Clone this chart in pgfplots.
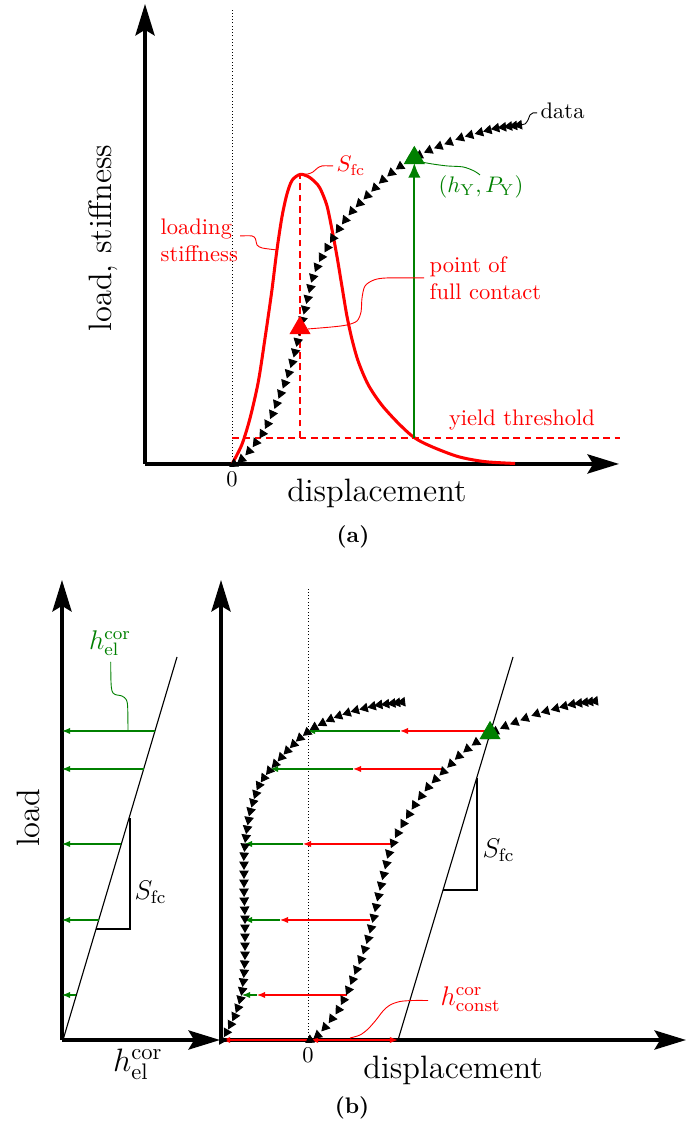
\documentclass[border=0pt]{standalone}
\usepackage{pgfplots}
\usepackage{pgfplotstable}
\pgfplotsset{compat=1.18}
\usetikzlibrary{arrows.meta}

\definecolor{dgreen}{rgb}{0,0.5,0}

% measured load-displacement data (origin at first contact);
% A = rotation of each triangle so that it points back along the curve
\pgfplotstableread{
X Y A
2 0 122
9.7 4.8 130
17.1 12.8 138
24.0 21.4 144
30.5 30.3 148
35.5 40.0 153
40.4 50.0 156
44.5 60.2 158
48.6 70.4 158
52.8 80.6 159
56.6 90.8 162
60.1 101.3 163
63.0 111.9 166
65.6 122.6 167
68.0 133.3 168
70.4 144.0 167
73.0 154.8 166
75.6 165.4 166
78.3 176.1 166
80.9 186.6 162
85.1 197.0 157
89.7 206.9 152
95.3 216.4 150
101.0 225.8 148
106.8 235.1 146
113.3 244.0 143
120.1 252.8 140
127.6 260.6 135
135.4 268.4 135
143.2 276.2 135
151.0 284.0 132
159.5 291.1 130
168.3 297.6 124
177.5 303.7 121
187.3 308.6 117
197.1 313.6 114
207.3 317.7 111
217.5 321.7 111
228.7 326.1 110
238.2 328.9 105
248.1 331.5 105
256.5 333.8 104
264.3 335.8 101
271.2 336.8 97
277.2 337.6 97
282.2 338.2 97
287.1 338.9 97
}\datacurve

% the same data after removing the constant and elastic corrections
\pgfplotstableread{
X Y A
-86 0 149
-81.4 7.7 150
-77.2 15.6 153
-73.3 23.8 155
-70.1 32.2 158
-67.6 40.9 165
-65.8 49.7 170
-64.8 58.6 173
-63.9 67.6 176
-63.4 76.6 177
-63 85.6 179
-63 94.6 180
-63 103.6 180
-63 112.6 180
-63 121.6 180
-63.3 130.6 182
-63.7 139.6 182
-64 148.6 181
-64 157.6 180
-64 166.6 180
-64 175.6 180
-64 184.6 177
-63.1 193.6 174
-62.2 202.6 172
-60.9 211.4 170
-59.4 220.2 170
-57.6 229.1 165
-55 237.8 163
-52.1 246.2 160
-48.9 254.7 155
-44 262.2 145
-38.5 269.4 141
-32.6 276.1 138
-26.6 282.8 138
-20.6 289.4 136
-14.2 295.8 135
-7.9 302.1 131
-0.7 307.6 128
6.6 312.8 120
14.6 316.8 117
22.6 320.8 115
31 324.1 110
39.6 327.1 109
48 329.7 105
56.8 331.8 103.5
64.8 333.7 103
71.5 335.2 98
78.4 336 97
84.5 336.7 97
89.3 337.3 97
94.3 337.9 97
}\corrcurve

\tikzset{
  bigarrow/.style={line width=1.6pt,-{Stealth[length=14pt,width=8.5pt,inset=2.5pt]}},
  smalltip/.style={-{Latex[length=3.6pt,width=2.8pt]}},
}

\pgfplotsset{
  sketch/.style={
    x=0.4444pt, y=0.4444pt,
    anchor=south west,
    axis lines=left,
    axis line style={bigarrow},
    every outer x axis line/.append style={bigarrow},
    every outer y axis line/.append style={bigarrow},
    every inner x axis line/.append style={bigarrow},
    every inner y axis line/.append style={bigarrow},
    clip=false,
    xtick=\empty, ytick=\empty,
    major tick length=0pt,
    label style={font=\Large},
    ymin=0, ymax=460,
  },
  datamarks/.style={
    scatter, only marks, mark=triangle*, mark size=2.1pt,
    scatter/use mapped color={draw=black, fill=black},
    visualization depends on={\thisrow{A} \as \ang},
    scatter/@pre marker code/.append style={/tikz/rotate=\ang},
  },
}

\begin{document}
\begin{tikzpicture}
\useasboundingbox (0,0) rectangle (304.9pt,501.7pt);

% ---------------- (a) ----------------
\begin{axis}[sketch,
  at={(64.44pt,295.53pt)},
  xmin=-87, xmax=387,
  xtick={0}, xticklabels={$0$},
  xlabel={displacement}, ylabel={load, stiffness},
  xlabel style={at={(axis description cs:0.489,-0.063)}, anchor=center},
  ylabel style={at={(axis description cs:-0.0886,0.491)}, anchor=center},
]
\addplot[line width=0.45pt, densely dotted] coordinates {(0,0) (0,454)};
\addplot[red, densely dashed, line width=0.85pt] coordinates {(0,26.3) (388,26.3)};
\addplot[red, densely dashed, line width=0.85pt] coordinates {(68,26.3) (68,289)};
% loading stiffness
\addplot[red, line width=1.35pt, smooth] coordinates {
  (0,0) (9.7,19) (18,45.7) (26.3,82.3) (33,125.7) (39.7,172.3) (44.7,212.3)
  (49.7,245.7) (54.7,269) (60,283.5) (68,289.5) (76,287.5) (83,282) (88,275.7)
  (94.7,259) (99.7,235.7) (104.7,209) (109.7,179) (114.7,149) (119.7,125.7)
  (126.3,102.3) (136.3,79) (149.7,59) (166.3,40.7) (182.3,26.3) (199.7,17.3)
  (226.3,7.3) (253,2.3) (283,0.5)};
\addplot[datamarks] table[x=X, y=Y] {\datacurve};
\addplot[dgreen, line width=0.9pt, -{Latex[length=6.5pt,width=5.5pt]}] coordinates {(182.3,26.3) (182.3,301)};
\addplot[dgreen, only marks, mark=triangle*, mark size=5pt] coordinates {(182.3,306)};
\addplot[red, only marks, mark=triangle*, mark size=5pt] coordinates {(68,136)};
% annotation leaders
\addplot[red, thin, smooth] coordinates {(68,289.5) (76,290) (81,292) (85,295.5) (90,298) (101,298)};
\addplot[red, thin, smooth] coordinates {(44.7,214) (30,216) (25,219) (23.5,225) (20,228) (8,228)};
\addplot[red, thin, smooth] coordinates {(76,135) (100,137) (115,139) (125,143) (129,152) (130,166) (133,178) (142,184) (155,186) (192,186)};
\addplot[dgreen, thin, smooth] coordinates {(189,302) (200,300) (215,298) (231,297) (242,293) (248,289)};
\addplot[black, thin, smooth] coordinates {(288,339) (293,340) (296,344) (298,349) (301,351) (305,351)};
\node[red, anchor=west, inner sep=1pt] at (axis cs:102,298) {$S_{\mathrm{fc}}$};
\node[red, anchor=west, align=left, inner sep=1pt] at (axis cs:-74,223.5) {loading\\stiffness};
\node[red, anchor=west, align=left, inner sep=1pt] at (axis cs:195,186) {point of\\full contact};
\node[dgreen] at (axis cs:249,277) {$(h_{\mathrm{Y}},P_{\mathrm{Y}})$};
\node[anchor=west, inner sep=1pt] at (axis cs:306,353) {data};
\node[red] at (axis cs:290,44) {yield threshold};
\node[font=\bfseries] at (axis cs:121,-73) {(a)};
\end{axis}

% ---------------- (b), elastic correction ----------------
\begin{axis}[sketch,
  at={(27.55pt,39.55pt)},
  xmin=0, xmax=158,
  xlabel={$h^{\mathrm{cor}}_{\mathrm{el}}$}, ylabel={load},
  xlabel style={at={(axis description cs:0.48,-0.052)}, anchor=center},
  ylabel style={at={(axis description cs:-0.215,0.483)}, anchor=center},
]
\addplot[black, line width=0.5pt] coordinates {(1,0) (115,383)};
\addplot[black, line width=0.5pt] coordinates {(34,111) (68,111) (68,222)};
\addplot[dgreen, line width=0.5pt, smalltip] coordinates {(93,309) (0,309)};
\addplot[dgreen, line width=0.5pt, smalltip] coordinates {(81.7,271) (0,271)};
\addplot[dgreen, line width=0.5pt, smalltip] coordinates {(59.3,196) (0,196)};
\addplot[dgreen, line width=0.5pt, smalltip] coordinates {(36.7,120) (0,120)};
\addplot[dgreen, line width=0.5pt, smalltip] coordinates {(14.4,45) (0,45)};
\addplot[dgreen, thin, smooth] coordinates {(66,309) (65.7,332) (64.5,340) (60,344) (53,345.5) (50,349) (49,358) (48.7,378)};
\node[dgreen, font=\large] at (axis cs:48,397) {$h^{\mathrm{cor}}_{\mathrm{el}}$};
\node[anchor=west, font=\large, inner sep=1pt] at (axis cs:70,148) {$S_{\mathrm{fc}}$};
\end{axis}

% ---------------- (b), corrected data ----------------
\begin{axis}[sketch,
  at={(98.21pt,39.55pt)},
  xmin=-87, xmax=378,
  xtick={0}, xticklabels={$0$},
  xlabel={displacement},
  xlabel style={at={(axis description cs:0.499,-0.067)}, anchor=center},
]
\addplot[line width=0.45pt, densely dotted] coordinates {(0,0) (0,453)};
\addplot[black, line width=0.5pt] coordinates {(90,0) (205,383)};
\addplot[black, line width=0.5pt] coordinates {(135,150) (169,150) (169,262)};
\addplot[datamarks] table[x=X, y=Y] {\datacurve};
\addplot[datamarks] table[x=X, y=Y] {\corrcurve};
% constant shift (red) followed by the elastic correction (green)
\addplot[red, line width=0.5pt, smalltip] coordinates {(182,309) (92,309)};
\addplot[dgreen, line width=0.5pt, smalltip] coordinates {(92,309) (-1,309)};
\addplot[red, line width=0.5pt, smalltip] coordinates {(135,271) (45,271)};
\addplot[dgreen, line width=0.5pt, smalltip] coordinates {(45,271) (-38,271)};
\addplot[red, line width=0.5pt, smalltip] coordinates {(85,196) (-5,196)};
\addplot[dgreen, line width=0.5pt, smalltip] coordinates {(-5,196) (-64,196)};
\addplot[red, line width=0.5pt, smalltip] coordinates {(62,120) (-28,120)};
\addplot[dgreen, line width=0.5pt, smalltip] coordinates {(-28,120) (-64,120)};
\addplot[red, line width=0.5pt, smalltip] coordinates {(39,45) (-51,45)};
\addplot[dgreen, line width=0.5pt, smalltip] coordinates {(-51,45) (-66,45)};
\addplot[red, line width=0.6pt, {Latex[length=3.6pt,width=2.8pt]}-{Latex[length=3.6pt,width=2.8pt]}] coordinates {(2,0) (90,0)};
\addplot[red, line width=0.6pt, smalltip] coordinates {(2,0) (-86,0)};
\addplot[dgreen, only marks, mark=triangle*, mark size=5pt] coordinates {(182,307)};
\addplot[red, thin, smooth] coordinates {(42,2) (52,5) (60,11) (68,20) (75,29) (82,35) (92,38.5) (105,39.5) (120,39.5)};
\node[red, anchor=west, font=\large, inner sep=1pt] at (axis cs:130,41) {$h^{\mathrm{cor}}_{\mathrm{const}}$};
\node[anchor=west, font=\large, inner sep=1pt] at (axis cs:172,190) {$S_{\mathrm{fc}}$};
\node[font=\bfseries] at (axis cs:44,-68) {(b)};
\end{axis}
\end{tikzpicture}
\end{document}
